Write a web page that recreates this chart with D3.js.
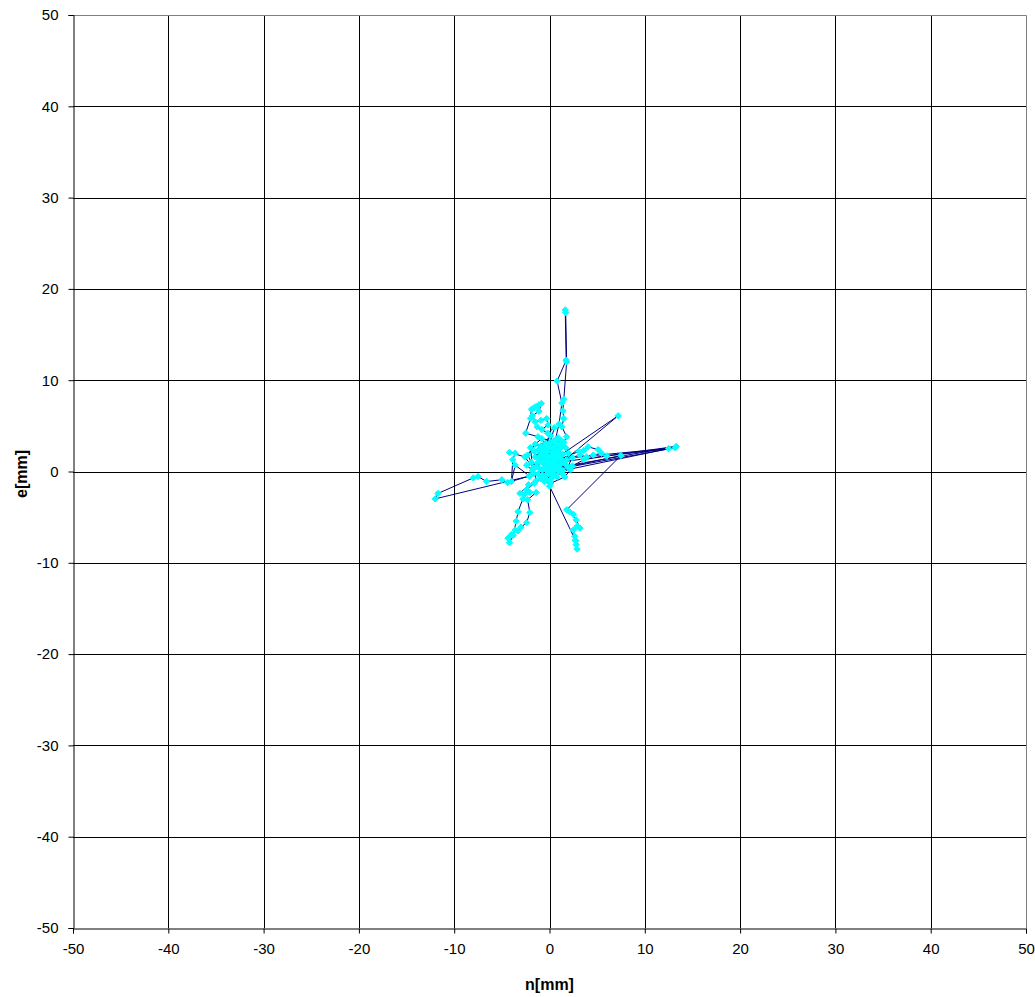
<!DOCTYPE html>
<html>
<head>
<meta charset="utf-8">
<script src="https://cdn.jsdelivr.net/npm/d3@7"></script>
<style>
  body { margin: 0; background: #fff; }
  svg { display: block; }
</style>
</head>
<body>
<svg width="1035" height="997"></svg>
<script>
// axis ticks
const xTicks = [-50, -40, -30, -20, -10, 0, 10, 20, 30, 40, 50];
const yTicks = [-50, -40, -30, -20, -10, 0, 10, 20, 30, 40, 50];

// track of positions, [n, e] in mm, in time order
const centreStart = [
  [0.2, 1.0], [0.5, 1.4], [-0.3, 0.8], [0.1, 0.3], [0.8, 1.2], [-0.6, 1.6], [0.3, 2.1], [1.1, 0.7],
  [-0.2, -0.2], [0.4, 0.6], [-1.0, 1.1], [-0.5, 2.4], [0.6, 2.8], [1.4, 1.9], [0.9, 0.1], [-0.1, 1.5],
  [-1.4, 0.5], [-0.8, -0.4], [0.2, -0.8], [0.7, 0.4], [-0.4, 1.9], [0.0, 2.9], [1.2, 3.4], [-1.2, 2.3]
];
const spikeUp = [
  [1.2, 2.6], [1.8, 3.8], [1.3, 4.9], [1.5, 5.8], [1.4, 6.65], [1.5, 7.9], [1.8, 12.0], [1.7, 17.4],
  [1.65, 17.7], [1.75, 12.2], [0.8, 9.9], [1.3, 7.5], [1.0, 5.2], [0.6, 3.4]
];
const centreMid = [
  [0.3, 2.5], [-0.4, 3.1], [0.1, 3.9], [-0.9, 2.8], [-1.6, 2.2], [-1.1, 1.4], [-0.3, 0.4], [0.5, -0.3],
  [1.6, 0.9], [2.0, 2.0], [1.5, 3.2], [0.9, 2.3], [0.2, 1.7], [-0.7, 0.2], [-1.9, 1.0], [-2.3, 1.8],
  [-1.5, 3.0], [-0.8, 3.6], [0.4, 3.3], [1.1, 2.9], [-0.2, 2.2], [-1.8, 0.1], [-2.4, 0.7], [1.8, 1.3]
];
const upperLeft = [
  [-1.2, 3.8], [-2.5, 4.2], [-2.0, 5.8], [-1.9, 6.8], [-1.6, 7.0], [-1.4, 7.1], [-1.1, 7.3], [-0.85, 7.45],
  [-1.1, 6.6], [-1.8, 6.1], [-1.5, 5.45], [-0.9, 5.6], [-0.3, 5.8], [-0.15, 5.1], [-0.8, 4.6], [-1.3, 4.9],
  [-0.2, 4.2], [0.5, 4.8], [0.1, 3.2], [0.7, 1.8], [-0.2, 1.2], [0.4, 0.2]
];
const rightOut = [
  [7.2, 6.1], [0.9, 1.6], [0.2, 0.9], [13.3, 2.75], [0.6, 0.4], [-0.4, 0.7], [3.2, 1.8], [3.9, 1.6],
  [4.6, 1.8], [5.45, 2.0], [5.1, 2.4], [4.05, 2.7], [3.6, 2.3], [3.1, 2.2], [1.2, 1.4], [13.2, 2.6],
  [1.0, 0.3], [7.5, 1.75], [1.8, -4.2], [2.1, -4.4], [2.5, -4.7], [2.8, -5.3], [3.2, -6.2], [2.9, -6.0],
  [2.5, -6.4], [2.65, -7.1], [2.7, -7.5], [2.8, -8.0], [2.9, -8.5], [2.75, -7.6], [0.0, -1.6],
  [-0.3, -0.9], [0.3, -0.4], [2.4, 0.6], [3.6, 1.3], [6.0, 1.7], [12.5, 2.5], [1.4, 0.1], [0.8, -0.6]
];
const leftOut = [
  [-1.2, -0.3], [-2.1, -0.5], [-4.4, -1.2], [-5.0, -0.9], [-6.6, -1.1], [-7.5, -0.55], [-8.0, -0.7],
  [-11.7, -2.4], [-12.0, -3.0], [-2.1, -0.5], [-3.6, 0.7], [-4.0, -1.1], [-3.85, 1.3], [-3.6, 2.0],
  [-4.2, 2.1], [-2.6, 1.6], [-1.7, 0.4]
];
const lowerLeft = [
  [-1.4, -1.0], [-2.2, -1.45], [-3.1, -2.4], [-2.06, -2.3], [-1.4, -2.3], [-2.3, -3.1], [-2.06, -4.5],
  [-2.4, -5.6], [-3.0, -6.1], [-3.3, -6.5], [-3.6, -6.4], [-4.0, -6.9], [-4.35, -7.3], [-4.2, -7.8],
  [-3.8, -7.0], [-3.5, -5.45], [-3.3, -4.4], [-2.8, -3.0], [-2.6, -2.5], [-2.4, -2.0], [-1.6, -1.3]
];
const centreEnd = [
  [-0.9, -0.8], [-0.2, 0.0], [0.6, 0.9], [1.3, -0.2], [1.9, 0.5], [2.4, 1.5], [1.7, 2.6], [0.8, 3.0],
  [-0.6, 2.0], [-1.3, 0.9], [-0.4, -0.5], [0.3, 1.1], [1.0, 1.9], [-0.1, 2.6], [-0.9, 1.8], [0.5, 0.7],
  [-0.5, -1.1], [0.1, -1.3], [1.6, -0.6], [2.2, 0.2], [-1.7, -0.2], [-2.0, 2.6], [0.9, 3.7], [0.3, 0.0],
  [-0.7, 1.0], [0.0, 0.5], [-1.0, 0.3], [1.3, 1.1], [0.6, 1.6], [-0.3, 2.9], [-1.5, 1.6], [0.2, -0.3],
  [1.2, 0.2], [-0.8, 2.4], [0.7, 2.2], [-0.1, 0.9]
];

const track = [].concat(centreStart, spikeUp, centreMid, upperLeft, rightOut, leftOut, lowerLeft, centreEnd);

const svg = d3.select('svg');
const margin = { left: 73, top: 15, right: 1035 - 1026, bottom: 997 - 928 };
const width = 1035 - margin.left - margin.right,
  height = 997 - margin.top - margin.bottom;

const x = d3.scaleLinear().domain([-50, 50]).range([margin.left, margin.left + width]);
const y = d3.scaleLinear().domain([-50, 50]).range([margin.top + height, margin.top]);

const font = '"Liberation Sans", Arial, sans-serif';

// grid
const grid = svg.append('g').attr('class', 'grid');
grid.selectAll('.vgrid')
  .data(xTicks.slice(1, -1))
  .enter()
  .append('line')
  .attr('x1', (d) => Math.round(x(d)) + 0.5)
  .attr('x2', (d) => Math.round(x(d)) + 0.5)
  .attr('y1', margin.top)
  .attr('y2', margin.top + height)
  .attr('stroke', '#000')
  .attr('stroke-width', 1);
grid.selectAll('.hgrid')
  .data(yTicks.slice(1, -1))
  .enter()
  .append('line')
  .attr('x1', margin.left)
  .attr('x2', margin.left + width)
  .attr('y1', (d) => Math.round(y(d)) + 0.5)
  .attr('y2', (d) => Math.round(y(d)) + 0.5)
  .attr('stroke', '#000')
  .attr('stroke-width', 1);

// plot border (top/right gray)
svg.append('path')
  .attr('d', `M${margin.left},${margin.top + 0.5}H${margin.left + width + 0.5}V${margin.top + height}`)
  .attr('fill', 'none')
  .attr('stroke', '#808080');

// axes - plain hyphen minus like the original
const fmt = (d) => String(d);
const xAxis = svg.append('g')
  .attr('transform', `translate(0,${margin.top + height + 0.5})`)
  .call(d3.axisBottom(x).tickValues(xTicks).tickFormat(fmt).tickSize(5).tickPadding(10));
const yAxis = svg.append('g')
  .attr('transform', `translate(${margin.left + 0.5},0)`)
  .call(d3.axisLeft(y).tickValues(yTicks).tickFormat(fmt).tickSize(5).tickPadding(10));

[xAxis, yAxis].forEach((a) => {
  a.select('.domain').attr('stroke', '#000');
  a.selectAll('.tick line').attr('stroke', '#000');
  a.selectAll('text')
    .attr('font-family', font)
    .attr('font-size', '15px')
    .attr('fill', '#000');
});

// track line
const line = d3.line()
  .x((d) => x(d[0]))
  .y((d) => y(d[1]));

svg.append('path')
  .datum(track)
  .attr('d', line)
  .attr('fill', 'none')
  .attr('stroke', '#000080')
  .attr('stroke-width', 1);

// markers
svg.selectAll('.pt')
  .data(track)
  .enter()
  .append('path')
  .attr('class', 'pt')
  .attr('d', d3.symbol().type(d3.symbolDiamond2).size(26))
  .attr('transform', (d) => `translate(${x(d[0])},${y(d[1])})`)
  .attr('fill', '#00ffff')
  .attr('stroke', '#00ffff')
  .attr('stroke-width', 1);

// axis titles
svg.append('text')
  .attr('x', x(0))
  .attr('y', 990)
  .attr('text-anchor', 'middle')
  .attr('font-family', font)
  .attr('font-size', '16px')
  .attr('font-weight', 'bold')
  .text('n[mm]');

svg.append('text')
  .attr('transform', `translate(27,474) rotate(-90)`)
  .attr('text-anchor', 'middle')
  .attr('font-family', font)
  .attr('font-size', '16px')
  .attr('font-weight', 'bold')
  .text('e[mm]');
</script>
</body>
</html>
